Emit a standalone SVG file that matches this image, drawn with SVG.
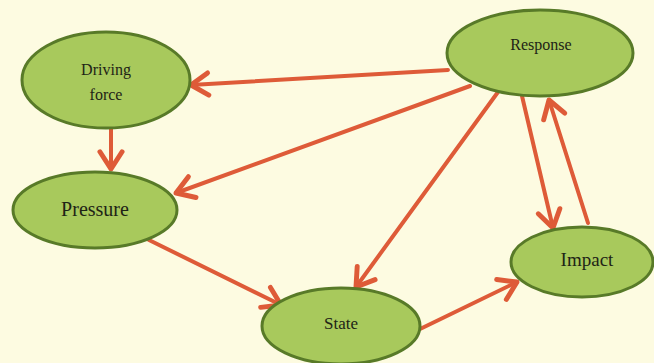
<svg xmlns="http://www.w3.org/2000/svg" width="654" height="363" viewBox="0 0 654 363">
<defs>
<style>
.node{fill:#a8c95c;stroke:#587a28;stroke-width:3}
.lbl{font-family:"Liberation Serif","Times New Roman",serif;fill:#1e2416;text-anchor:middle}
.edge{stroke:#de5b38;stroke-width:4;fill:none;stroke-linecap:round;marker-end:url(#ah)}
</style>
<marker id="ah" markerUnits="userSpaceOnUse" markerWidth="32" markerHeight="32" refX="0" refY="0" viewBox="-17 -13 21 26" orient="auto">
<path d="M -14 -9 L 0 0 L -14 9" fill="none" stroke="#de5b38" stroke-width="4" stroke-linecap="round" stroke-linejoin="round"/>
</marker>
</defs>
<rect x="0" y="0" width="654" height="363" fill="#fdfbe1"/>
<g id="connectors">
<line class="edge" x1="448" y1="70" x2="191" y2="85"/>
<line class="edge" x1="470" y1="86" x2="176" y2="193"/>
<line class="edge" x1="498" y1="92" x2="356" y2="287"/>
<line class="edge" x1="522" y1="96" x2="553" y2="228"/>
<line class="edge" x1="588" y1="223" x2="549" y2="100"/>
<line class="edge" x1="111" y1="128" x2="111" y2="169"/>
<line class="edge" x1="149" y1="240" x2="281" y2="305"/>
<line class="edge" x1="418" y1="330" x2="517" y2="282"/>
</g>
<g id="driving-force">
<ellipse class="node" cx="106" cy="80" rx="84" ry="48"/>
<text class="lbl" font-family="Liberation Serif, serif" x="106" y="75" font-size="16">Driving</text>
<text class="lbl" font-family="Liberation Serif, serif" x="106" y="100" font-size="16">force</text>
</g>
<g id="response">
<ellipse class="node" cx="540" cy="53" rx="93" ry="43"/>
<text class="lbl" font-family="Liberation Serif, serif" x="541" y="50" font-size="16">Response</text>
</g>
<g id="pressure">
<ellipse class="node" cx="95" cy="210" rx="82" ry="38"/>
<text class="lbl" font-family="Liberation Serif, serif" x="95" y="216" font-size="20">Pressure</text>
</g>
<g id="state">
<ellipse class="node" cx="341" cy="326" rx="79" ry="38"/>
<text class="lbl" font-family="Liberation Serif, serif" x="341" y="329" font-size="17">State</text>
</g>
<g id="impact">
<ellipse class="node" cx="582" cy="262" rx="71" ry="35"/>
<text class="lbl" font-family="Liberation Serif, serif" x="587" y="266" font-size="19">Impact</text>
</g>
</svg>
